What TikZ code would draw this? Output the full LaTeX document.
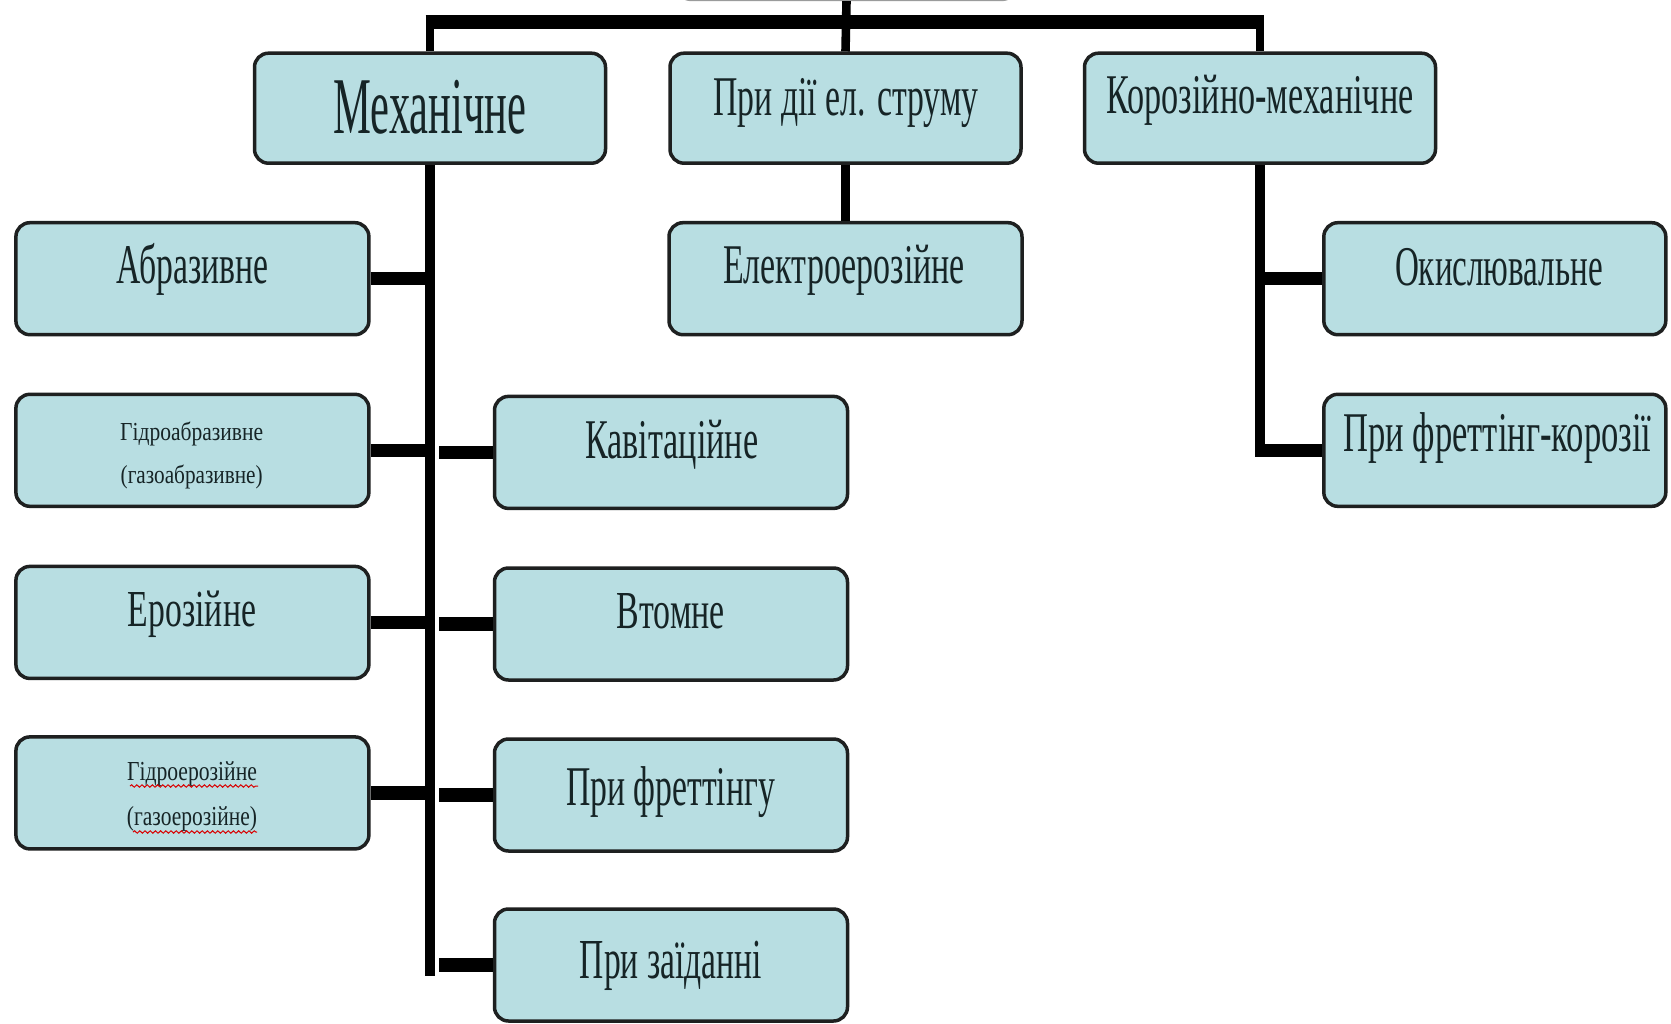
\documentclass[tikz,border=0pt]{standalone}
\usepackage{fontspec}
\setmainfont{Liberation Serif}
\usepackage{graphicx}
\usetikzlibrary{calc,decorations.pathmorphing}
\definecolor{boxfill}{RGB}{184,222,226}
\definecolor{boxline}{RGB}{30,32,32}
\definecolor{txtcol}{RGB}{22,36,38}
\newcommand\fitt[3]{\resizebox{#1}{#2}{\smash{#3}\vphantom{H}}}
\tikzset{
  box/.style={draw=boxline, fill=boxfill, line width=1.75pt, rounded corners=7pt, inner sep=0pt},
  lvl/.style={box, minimum width=175.5pt, minimum height=55pt},
  leaf/.style={box, minimum width=176.5pt, minimum height=56pt},
  txt/.style={anchor=base, inner sep=0pt, text=txtcol},
  vline/.style={line width=4.3pt, black},
  trunk/.style={line width=5pt, black},
  stub/.style={line width=6.7pt, black},
  hbar/.style={line width=6.7pt, black, shorten <=-2.15pt, shorten >=-2.15pt},
  squig/.style={red!85!black, line width=0.5pt, decorate, decoration={snake, amplitude=0.6pt, segment length=2.6pt}}
}
\begin{document}
\begin{tikzpicture}[x=0.5pt,y=-0.5pt]
\useasboundingbox (0,0) rectangle (1671,1023);
\fill[white] (0,0) rectangle (1671,1023);

% boxes
\node[lvl, minimum width=169.5pt, draw=boxline!45] (r) at (846.5,-55.6) {};
\node[lvl] (m) at (430,108.2) {};
\node[lvl] (s) at (845.5,108.2) {};
\node[lvl] (k) at (1260,108.2) {};
\node[leaf] (e) at (845.5,278.7) {};
\node[leaf] (a1) at (192.4,278.7) {};
\node[leaf] (a2) at (192.4,450.3) {};
\node[leaf] (a3) at (192.4,622.4) {};
\node[leaf] (a4) at (192.4,792.9) {};
\node[leaf] (b1) at (671,452.4) {};
\node[leaf] (b2) at (671,624) {};
\node[leaf] (b3) at (671,795) {};
\node[leaf] (b4) at (671,965) {};
\node[leaf, minimum width=171pt] (c1) at (1494.8,278.7) {};
\node[leaf, minimum width=171pt] (c2) at (1494.8,450.3) {};

\coordinate (bar) at (846,22);
\coordinate (mend) at (430,976);

% connectors
\draw[vline] (r.south) -- (s.north);
\draw[vline] (m.north) -- (m.north |- bar);
\draw[vline] (k.north) -- (k.north |- bar);
\draw[hbar] (m.north |- bar) -- (k.north |- bar);
\draw[vline] (s.south) -- (e.north);
\draw[trunk] (m.south) -- (mend);
\foreach \n in {a1,a2,a3,a4} \draw[stub] (\n.east) -- (\n.east -| m.south);
\foreach \n in {b1,b2,b3,b4} \draw[stub] ($(\n.west -| m.south)+(9,0)$) -- (\n.west);
\draw[trunk, line width=4.6pt] (k.south) -- (k.south |- c2.west);
\foreach \n in {c1,c2} \draw[stub, shorten <=-2.3pt] (\n.west -| k.south) -- (\n.west);

% texts
\node[txt] (t1) at (430,133) {\fitt{96.5pt}{26.35pt}{Механічне}};
\node[txt] (t2) at (845.8,115) {\fitt{132.5pt}{18.35pt}{При дії ел. струму}};
\node[txt] (t3) at (1260,113.3) {\fitt{153.5pt}{18.35pt}{Корозійно-механічне}};
\node[txt] (t4) at (844,283.3) {\fitt{120.85pt}{18.35pt}{Електроерозійне}};
\node[txt] (t5) at (192.5,283.3) {\fitt{75.85pt}{18.35pt}{Абразивне}};
\node[txt] (t6a) at (191.7,440) {\fitt{71.5pt}{8.5pt}{Гідроабразивне}};
\node[txt] (t6b) at (191.7,483) {\fitt{71pt}{8.5pt}{(газоабразивне)}};
\node[txt] (t7) at (192,626) {\fitt{64pt}{17pt}{Ерозійне}};
\node[txt] (t8a) at (192,780) {\fitt{65pt}{9pt}{Гідроерозійне}};
\node[txt] (t8b) at (192,825) {\fitt{65pt}{9pt}{(газоерозійне)}};
\node[txt] (t9) at (671.7,458.3) {\fitt{86.5pt}{18.35pt}{Кавітаційне}};
\node[txt] (t10) at (670.8,628.3) {\fitt{54pt}{17.5pt}{Втомне}};
\node[txt] (t11) at (670.5,805) {\fitt{104.5pt}{18.35pt}{При фреттінгу}};
\node[txt] (t12) at (670.8,978) {\fitt{91pt}{18.5pt}{При заїданні}};
\node[txt] (t13) at (1499,285) {\fitt{104pt}{18.35pt}{Окислювальне}};
\node[txt] (t14) at (1497.5,451.7) {\fitt{154pt}{18.35pt}{При фреттінг-корозії}};

% spell-check underlines
\draw[squig] (130,786) -- (258,786);
\draw[squig] (133,832) -- (257,832);
\end{tikzpicture}
\end{document}
